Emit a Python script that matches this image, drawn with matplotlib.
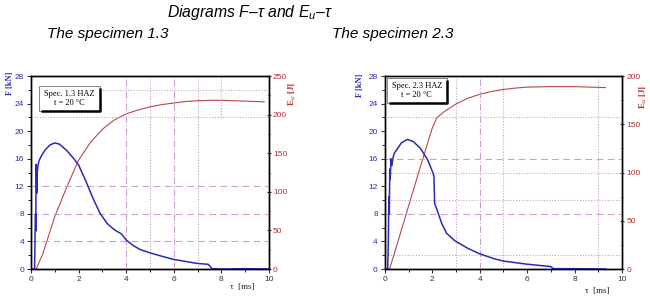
import numpy as np
import matplotlib
matplotlib.use("Agg")
import matplotlib.pyplot as plt
from matplotlib.patches import Rectangle

plt.rcParams['font.family'] = ['Liberation Sans', 'DejaVu Sans']
plt.rcParams['mathtext.fontset'] = 'custom'
plt.rcParams['mathtext.rm'] = 'Liberation Sans'
plt.rcParams['mathtext.it'] = 'Liberation Sans:italic'

# specimen 1.3 - force F [kN] vs time tau [ms]
tau1_F = [0, 0.15, 0.17, 0.19, 0.20, 0.21, 0.22, 0.24, 0.26, 0.30, 0.35, 0.45, 0.6, 0.8, 1.0,
          1.2, 1.5, 1.8, 2.0, 2.3, 2.6, 2.9, 3.2, 3.5, 3.8, 4.0, 4.3, 4.6, 5.0, 5.5, 5.98,
          6.5, 6.96, 7.45, 7.55, 7.6, 8.0, 9.0, 10.0]
F1 = [0, 0, 5, 8, 5.5, 12, 15.2, 11, 14, 15.2, 15.8, 16.5, 17.3, 18.0, 18.3,
      18.1, 17.2, 16.0, 15.1, 12.8, 10.3, 8.1, 6.6, 5.7, 5.1, 4.2, 3.4, 2.8, 2.35, 1.85, 1.4,
      1.1, 0.82, 0.68, 0.3, 0.05, 0, 0.05, 0]
# specimen 1.3 - energy Eu [J]
tau1_E = [0, 0.22, 0.5, 1.0, 1.5, 2.0, 2.5, 3.0, 3.5, 4.0, 4.5, 5.0, 5.5, 6.0, 6.5, 7.0, 7.5, 8.0, 9.0, 9.8]
E1 = [0, 0, 20, 68, 106, 141, 164, 181, 193, 201, 206, 210, 213, 215, 217, 218, 218.5, 218.5, 217.5, 216.5]

# specimen 2.3
tau2_F = [0, 0.12, 0.15, 0.17, 0.19, 0.21, 0.23, 0.26, 0.3, 0.35, 0.4, 0.5, 0.7, 0.95, 1.2,
          1.5, 1.8, 2.0, 2.07, 2.1, 2.18, 2.4, 2.6, 2.95, 3.5, 4.0, 4.6, 5.0, 6.0, 7.0, 7.1,
          7.2, 8.0, 9.3]
F2 = [0, 0, 4, 10.5, 8, 14.5, 13, 16, 15, 16.2, 16.8, 17.3, 18.3, 18.8, 18.5,
      17.5, 15.9, 14.2, 13.5, 9.5, 8.8, 6.6, 5.2, 4.1, 3.0, 2.2, 1.5, 1.15, 0.7, 0.35, 0.05,
      0.05, 0.05, 0]
tau2_E = [0, 0.2, 0.5, 1.0, 1.5, 2.0, 2.2, 2.5, 3.0, 3.5, 4.0, 4.5, 5.0, 5.5, 6.0, 7.0, 8.0, 9.3]
E2 = [0, 0, 24, 65, 106, 146, 157, 163, 171, 177, 181, 184, 186, 187.5, 188.5, 189, 189, 188]

# reference lines (F units / tau units)
ref1_h_dash = [12, 8, 4]
ref1_h_dot = [22]
ref1_v_dash = [4, 6]
ref1_v_dot = [5, 7]
ref2_h_dash = [16, 8]
ref2_h_dot = [22, 14, 10, 2.1]
ref2_v_dash = [4]
ref2_v_dot = [3, 5, 9]

BLUE = '#2a2ab8'
RED = '#b84848'
REF = '#cc9fcc'
TICKRED = '#b03030'


def draw_panel(rect, tau_F, F, tau_E, E, Emax, Estep, hd, ho, vd, vo, lab_pos):
    ax = fig.add_axes(rect)
    ax2 = ax.twinx()
    ax.set_zorder(ax2.get_zorder() + 1)
    ax.patch.set_visible(False)

    for y in hd:
        ax.axhline(y, color=REF, lw=0.8, ls=(0, (6, 4)), zorder=0)
    for y in ho:
        ax.axhline(y, color=REF, lw=0.8, ls=(0, (1, 1.5)), zorder=0)
    for x in vd:
        ax.axvline(x, color=REF, lw=0.8, ls=(0, (6, 2, 1, 2)), zorder=0)
    for x in vo:
        ax.axvline(x, color=REF, lw=0.8, ls=(0, (1, 1.5)), zorder=0)

    ax2.plot(tau_E, E, color=RED, lw=0.8)
    ax.plot(tau_F, F, color=BLUE, lw=1.1)

    ax.set_xlim(0, 10)
    ax.set_ylim(0, 28)
    ax2.set_ylim(0, Emax)
    ax.set_xticks(np.arange(0, 11, 2))
    ax.set_xticks(np.arange(0, 11, 1), minor=True)
    ax.set_yticks(np.arange(0, 29, 4))
    ax.set_yticks(np.arange(0, 29, 2), minor=True)
    ax2.set_yticks(np.arange(0, Emax + 1, Estep))
    ax2.set_yticks(np.arange(0, Emax + 1, Estep / 2), minor=True)

    ax.tick_params(axis='x', labelsize=6, colors='#333333', length=3, width=0.8, pad=2)
    ax.tick_params(axis='x', which='minor', length=2, width=0.6)
    ax.tick_params(axis='y', labelsize=6, colors='#333333', labelcolor=BLUE, length=3, width=0.8, pad=2)
    ax.tick_params(axis='y', which='minor', length=2, width=0.6)
    ax2.tick_params(axis='y', labelsize=6, colors='#333333', labelcolor=TICKRED, length=3, width=0.8,
                    direction='inout', pad=1.5)
    ax2.tick_params(axis='y', which='minor', length=2, width=0.6, direction='inout')
    for a in (ax, ax2):
        for s in a.spines.values():
            s.set_linewidth(1.0)

    fx, fy, ex, ey, tx, ty = lab_pos
    ax.text(fx, fy, 'F [kN]', transform=ax.transAxes, rotation=90, ha='center', va='center',
            fontsize=6, color=BLUE, family=['Liberation Serif'], fontweight='bold')
    ax.text(ex, ey, r'E$_u$ [J]', transform=ax.transAxes, rotation=90, ha='center', va='center',
            fontsize=6.5, color=TICKRED, family=['Liberation Serif'], fontweight='bold')
    ax.text(tx, ty, 'τ  [ms]', transform=ax.transAxes, ha='center', va='center',
            fontsize=6.5, color='#222222', family=['Liberation Serif'])
    return ax


def spec_box(ax, x0, y0, x1, y1, text):
    ax.add_patch(Rectangle((x0, y0), x1 - x0, y1 - y0, transform=ax.transAxes,
                           facecolor='white', edgecolor='#555555', lw=0.5, zorder=5))
    ax.plot([x0 + 0.01, x1, x1], [y0, y0, y1 - 0.01], transform=ax.transAxes,
            color='black', lw=1.8, zorder=6, solid_capstyle='butt')
    ax.text((x0 + x1) / 2, (y0 + y1) / 2, text, transform=ax.transAxes, ha='center',
            va='center', fontsize=6, family=['Liberation Serif'], zorder=7, linespacing=1.1)


fig = plt.figure(figsize=(6.5, 2.99), dpi=100)

fig.text(0.385, 0.958, r'Diagrams F–$\tau$ and E$_u$–$\tau$', ha='center', va='center',
         fontsize=11.3, style='italic')
fig.text(0.166, 0.885, 'The specimen 1.3', ha='center', va='center', fontsize=11, style='italic')
fig.text(0.604, 0.885, 'The specimen 2.3', ha='center', va='center', fontsize=11, style='italic')

ax_l = draw_panel([0.0477, 0.1003, 0.366, 0.6455], tau1_F, F1, tau1_E, E1, 250, 50,
                  ref1_h_dash, ref1_h_dot, ref1_v_dash, ref1_v_dot,
                  (-0.088, 0.96, 1.1, 0.905, 0.886, -0.093))
ax_l.plot([2.76, 10], [26, 26], color=REF, lw=0.8, ls=(0, (1, 1.5)), zorder=0)
ax_l.plot([8, 8], [22, 28], color=REF, lw=0.8, ls=(0, (1, 1.5)), zorder=0)
spec_box(ax_l, 0.034, 0.819, 0.29, 0.948, 'Spec. 1.3 HAZ\nt = 20 °C')

ax_r = draw_panel([0.592, 0.1003, 0.365, 0.6455], tau2_F, F2, tau2_E, E2, 200, 50,
                  ref2_h_dash, ref2_h_dot, ref2_v_dash, ref2_v_dot,
                  (-0.105, 0.953, 1.09, 0.89, 0.895, -0.114))
spec_box(ax_r, 0.008, 0.86, 0.262, 0.99, 'Spec. 2.3 HAZ\nt = 20 °C')

fig.savefig('out.png', dpi=100)
